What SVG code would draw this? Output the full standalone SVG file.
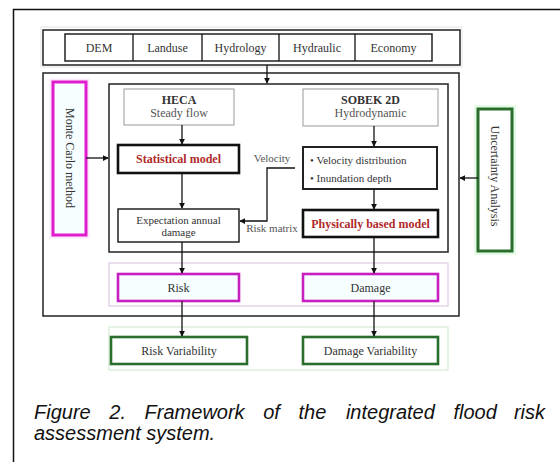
<svg xmlns="http://www.w3.org/2000/svg" width="560" height="462" viewBox="0 0 560 462">
<defs>
<style>
.t{font-family:"Liberation Serif","Times New Roman",serif;font-size:12px;fill:#333;text-anchor:middle}
.sm{font-size:11px}
.s{text-anchor:start}
.b{font-weight:bold}
.g{fill:#555}
.red{fill:#b02a2a;font-weight:bold}
.ln{fill:none;stroke:#111;stroke-width:1.3}
.box{fill:#fff;stroke:#222;stroke-width:1.5}
.gray{fill:#fff;stroke:#999;stroke-width:1}
.thick{fill:#fff;stroke:#111;stroke-width:2.6}
.mag{fill:#f6feff;stroke:#c81fc0;stroke-width:2.6}
.grn{fill:#fff;stroke:#2a6e2e;stroke-width:2.6}
.cap{font-family:"Liberation Sans",Arial,sans-serif;font-size:20px;font-style:italic;fill:#111}
</style>
<marker id="ah" viewBox="0 0 8 8" refX="7" refY="4" markerWidth="6" markerHeight="6" orient="auto" markerUnits="userSpaceOnUse">
<path d="M0,0 L8,4 L0,8 z" fill="#111"/>
</marker>
</defs>
<rect width="560" height="462" fill="#fff"/>
<!-- page frame -->
<path d="M13.5,462 V9.5 H560" fill="none" stroke="#111" stroke-width="1.5"/>

<!-- inputs -->
<g id="inputs">
<rect x="41" y="27" width="421" height="40" fill="none" stroke="#e4e4e4" stroke-width="1"/>
<rect x="43" y="30" width="417" height="35" class="box"/>
<rect x="65" y="34" width="367" height="27" class="box"/>
<path d="M133,34 V61 M202,34 V61 M279,34 V61 M355,34 V61" class="ln"/>
<text class="t" x="99" y="51.5">DEM</text>
<text class="t" x="167.5" y="51.5">Landuse</text>
<text class="t" x="240.5" y="51.5">Hydrology</text>
<text class="t" x="317" y="51.5">Hydraulic</text>
<text class="t" x="393.5" y="51.5">Economy</text>
</g>

<!-- main container -->
<g id="main">
<rect x="43" y="73" width="416" height="243" fill="none" stroke="#222" stroke-width="1.5"/>
</g>
<g id="models">
<rect x="109" y="84" width="339" height="168" fill="none" stroke="#222" stroke-width="1.5"/>
</g>

<g id="montecarlo">
<rect x="51" y="80" width="37" height="157" fill="none" stroke="#fbe8fb" stroke-width="3"/>
<rect x="53" y="82" width="33" height="153" fill="#f6feff" stroke="#e01ccc" stroke-width="3"/>
<text class="t" transform="translate(69.5,158) rotate(90)" x="0" y="4">Monte Carlo method</text>
</g>

<g id="heca">
<rect x="124" y="89" width="110" height="36" class="gray"/>
<text class="t b" x="179" y="104">HECA</text>
<text class="t g" x="179" y="117">Steady flow</text>
</g>

<g id="statistical">
<rect x="118" y="145" width="121" height="28" class="thick"/>
<text class="t red" x="178.5" y="163">Statistical model</text>
</g>

<g id="ead">
<rect x="118" y="209" width="121" height="33" class="box"/>
<text class="t sm" x="178.5" y="223.5">Expectation annual</text>
<text class="t sm" x="178.5" y="236">damage</text>
</g>

<g id="sobek">
<rect x="303" y="89" width="135" height="37" class="gray"/>
<text class="t b" x="370.5" y="104">SOBEK 2D</text>
<text class="t g" x="370.5" y="117">Hydrodynamic</text>
</g>

<g id="hydro">
<rect x="303" y="147" width="134" height="42" fill="#fff" stroke="#222" stroke-width="2"/>
<text class="t sm s" x="310" y="163.5">• Velocity distribution</text>
<text class="t sm s" x="310" y="181.5">• Inundation depth</text>
</g>

<g id="physical">
<rect x="303" y="210" width="135" height="27" class="thick"/>
<text class="t red" x="370.5" y="227.5">Physically based model</text>
</g>

<g id="uncertainty">
<rect x="476" y="107" width="38" height="146" fill="none" stroke="#e6fbe6" stroke-width="4"/>
<rect x="478" y="109" width="34" height="142" fill="#fff" stroke="#2a6e2e" stroke-width="3"/>
<text class="t" transform="translate(495,176) rotate(90)" x="0" y="4">Uncertainty Analysis</text>
</g>

<g id="outputs">
<rect x="109" y="263" width="339" height="43" fill="none" stroke="#d8bfe0" stroke-width="1"/>
</g>
<g id="risk">
<rect x="118" y="274" width="121" height="27" class="mag"/>
<text class="t" x="178.5" y="291.5">Risk</text>
</g>
<g id="damage">
<rect x="303" y="274" width="135" height="27" class="mag"/>
<text class="t" x="370.5" y="291.5">Damage</text>
</g>

<g id="variability">
<rect x="109" y="327" width="339" height="43" fill="none" stroke="#c9e8c9" stroke-width="1"/>
</g>
<g id="riskvar">
<rect x="111" y="337" width="136" height="27" class="grn"/>
<text class="t" x="179" y="354.5">Risk Variability</text>
</g>
<g id="damagevar">
<rect x="303" y="337" width="135" height="27" class="grn"/>
<text class="t" x="370.5" y="354.5">Damage Variability</text>
</g>

<!-- connectors -->
<g id="connectors">
<path d="M267,65 V83" class="ln" marker-end="url(#ah)"/>
<path d="M86,158 H108" class="ln" marker-end="url(#ah)"/>
<path d="M478,178 H460" class="ln" marker-end="url(#ah)"/>
<path d="M182,125 V144" class="ln" marker-end="url(#ah)"/>
<path d="M182,173 V208" class="ln" marker-end="url(#ah)"/>
<path d="M374,126 V146" class="ln" marker-end="url(#ah)"/>
<path d="M374,189 V209" class="ln" marker-end="url(#ah)"/>
<path d="M295,168 H267 V221 H240" class="ln" marker-end="url(#ah)"/>
<path d="M182,242 V273" class="ln" marker-end="url(#ah)"/>
<path d="M374,237 V273" class="ln" marker-end="url(#ah)"/>
<path d="M182,301 V336" class="ln" marker-end="url(#ah)"/>
<path d="M374,301 V336" class="ln" marker-end="url(#ah)"/>
<text class="t sm g" x="272" y="161.5">Velocity</text>
<text class="t sm g" x="272" y="232">Risk matrix</text>
</g>

<!-- caption -->
<g id="caption" class="cap">
<text x="34" y="419">Figure</text>
<text x="109.3" y="419">2.</text>
<text x="144.6" y="419">Framework</text>
<text x="263.2" y="419">of</text>
<text x="298.5" y="419">the</text>
<text x="345.9" y="419">integrated</text>
<text x="453.4" y="419">flood</text>
<text x="545" y="419" text-anchor="end">risk</text>
<text x="34" y="440">assessment system.</text>
</g>
</svg>
